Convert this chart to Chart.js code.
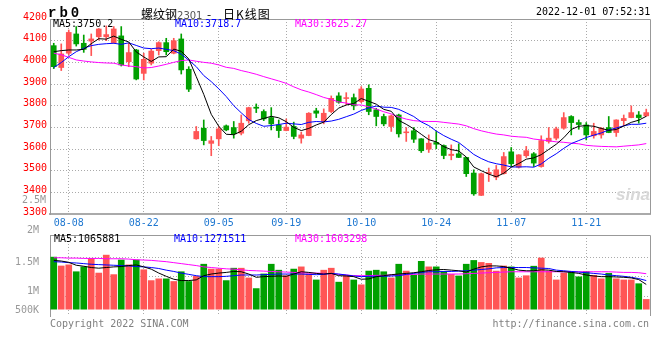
<!DOCTYPE html>
<html>
<head>
<meta charset="utf-8">
<script src="https://cdn.jsdelivr.net/npm/chart.js@4/dist/chart.umd.min.js"></script>
<style>
body { margin: 0; background: #fff; }
#wrap { position: relative; width: 660px; height: 360px; overflow: hidden; font-family: "DejaVu Sans Mono", monospace; font-size: 10px; }
#wrap canvas { position: absolute; left: 0; }
.t { position: absolute; white-space: nowrap; line-height: 12px; }
</style>
</head>
<body>
<div id="wrap">
  <canvas id="kline" width="660" height="232" style="top:0"></canvas>
  <canvas id="vol" width="660" height="100" style="top:225px"></canvas>

  <div class="t" style="left:48px;top:5px;font:bold 14px 'Liberation Mono';letter-spacing:3px">rb0</div>
  <div class="t" style="left:141px;top:5px;font:12px 'Noto Sans CJK SC'">螺纹钢<span style="font:10px 'DejaVu Sans';color:#555">2301</span></div>
  <div class="t" style="left:207px;top:5px;font:12px 'Noto Sans CJK SC'">-</div>
  <div class="t" style="left:223px;top:5px;font:12px 'Noto Sans CJK SC';letter-spacing:1px">日K线图</div>
  <div class="t" style="left:536px;top:6px">2022-12-01 07:52:31</div>

  <div class="t" style="left:53px;top:18px;color:#000">MA5:3750.2</div>
  <div class="t" style="left:175px;top:18px;color:#00f">MA10:3718.7</div>
  <div class="t" style="left:295px;top:18px;color:#f0f">MA30:3625.27</div>

  <div class="t" style="left:22px;top:194px;color:#999">2.5M</div>
  <div class="t" style="left:616px;top:185px;font:italic bold 17px 'Liberation Sans';color:#d8d8d8">sina</div>

  <div class="t" style="left:54px;top:233px;color:#000">MA5:1065881</div>
  <div class="t" style="left:174px;top:233px;color:#00f">MA10:1271511</div>
  <div class="t" style="left:295px;top:233px;color:#f0f">MA30:1603298</div>

  <div class="t" style="left:50px;top:318px;color:#808080">Copyright 2022 SINA.COM</div>
  <div class="t" style="right:11px;top:318px;color:#808080">http://finance.sina.com.cn</div>
</div>
<script>
// trading days shown on the chart
const dates = ['08-04','08-05','08-08','08-09','08-10','08-11','08-12','08-15','08-16','08-17','08-18','08-19','08-22','08-23','08-24','08-25','08-26','08-29','08-30','08-31',
  '09-01','09-02','09-05','09-06','09-07','09-08','09-09','09-13','09-14','09-15','09-16','09-19','09-20','09-21','09-22','09-23','09-26','09-27','09-28','09-29','09-30',
  '10-10','10-11','10-12','10-13','10-14','10-17','10-18','10-19','10-20','10-21','10-24','10-25','10-26','10-27','10-28','10-31',
  '11-01','11-02','11-03','11-04','11-07','11-08','11-09','11-10','11-11','11-14','11-15','11-16','11-17','11-18','11-21','11-22','11-23','11-24','11-25','11-28','11-29','11-30',
  '12-01'];
const dateTicks = ['08-08','08-22','09-05','09-19','10-10','10-24','11-07','11-21'];

const opens = [4077,3976,4042,4131,4088,4098,4118,4118,4091,4122, 4003,4057,3949,3996,4054,4091,4042,4108,3968,3647,
  3696,3626,3647,3707,3699,3673,3730,3793,3773,3745, 3711,3685,3704,3650,3662,3776,3727,3773,3845,3833,
  3837,3819,3880,3781,3750,3704,3757,3675,3684,3647, 3599,3630,3616,3570,3578,3561,3489,3386,3486,3470,
  3486,3587,3516,3569,3578,3519,3635,3650,3696,3750, 3722,3711,3661,3665,3699,3676,3731,3745,3757,3753];
const highs = [4088,4085,4149,4165,4126,4131,4156,4168,4165,4165, 4088,4060,4042,4060,4095,4111,4111,4131,3980,3704,
  3734,3658,3704,3711,3727,3757,3793,3808,3781,3791, 3734,3739,3724,3678,3768,3788,3785,3845,3860,3860,
  3854,3888,3896,3788,3761,3757,3761,3699,3699,3648, 3665,3681,3619,3619,3624,3562,3504,3489,3512,3524,
  3584,3607,3574,3612,3584,3661,3699,3701,3768,3754, 3734,3722,3719,3699,3750,3735,3757,3799,3773,3784];
const lows = [3971,3962,4034,4075,4046,4031,4103,4100,4088,3983, 3980,3919,3919,3988,4034,4034,4039,3946,3865,3645,
  3619,3569,3615,3684,3650,3665,3719,3768,3731,3688, 3653,3684,3647,3627,3661,3745,3716,3768,3811,3804,
  3781,3814,3758,3707,3707,3681,3655,3635,3630,3584, 3584,3601,3555,3550,3560,3473,3386,3385,3450,3458,
  3484,3519,3512,3561,3519,3516,3627,3642,3691,3665, 3691,3642,3650,3650,3675,3658,3707,3744,3719,3750];
const closes = [3980,4039,4138,4085,4060,4108,4154,4128,4154,3988, 4045,3923,4014,4052,4091,4049,4100,3965,3876,3681,
  3639,3638,3693,3688,3670,3719,3791,3788,3739,3716, 3685,3701,3658,3665,3765,3765,3765,3834,3816,3837,
  3799,3877,3773,3750,3716,3753,3670,3679,3645,3592, 3627,3622,3570,3576,3561,3486,3393,3486,3492,3504,
  3565,3532,3573,3592,3535,3639,3650,3693,3745,3722, 3713,3665,3681,3696,3676,3734,3741,3768,3745,3768];

const ma5 = [4049,4054,4057,4057,4060,4086,4109,4107,4121,4106, 4094,4048,4025,4004,4025,4026,4061,4051,4016,3934,
  3852,3760,3705,3668,3666,3682,3712,3731,3741,3751, 3744,3726,3700,3685,3695,3711,3724,3759,3789,3803,
  3810,3833,3820,3807,3783,3774,3732,3714,3693,3668, 3643,3633,3611,3597,3591,3563,3517,3500,3484,3472,
  3488,3516,3533,3553,3559,3574,3598,3622,3652,3690, 3705,3708,3705,3695,3686,3690,3706,3723,3733,3751];
const ma10 = [3976,3999,4026,4049,4065,4077,4083,4086,4088,4083, 4090,4078,4066,4063,4066,4060,4054,4038,4010,3980,
  3939,3911,3878,3842,3800,3767,3736,3718,3705,3708, 3713,3719,3716,3713,3723,3727,3725,3729,3737,3749,
  3761,3778,3790,3798,3793,3792,3783,3767,3750,3725, 3708,3683,3662,3645,3630,3603,3575,3556,3541,3532,
  3526,3517,3517,3518,3516,3531,3557,3578,3603,3625, 3639,3653,3664,3674,3688,3697,3707,3714,3714,3719];
const ma30 = [4042,4035,4023,4011,4006,4002,3999,3997,3996,3988, 3983,3980,3974,3976,3983,3991,4000,4008,4011,4005,
  4000,3996,3988,3977,3972,3962,3954,3945,3934,3924, 3914,3903,3887,3873,3863,3851,3838,3829,3817,3812,
  3804,3803,3795,3784,3772,3762,3748,3738,3731,3728, 3727,3727,3723,3719,3715,3707,3694,3684,3676,3669,
  3665,3659,3656,3654,3646,3642,3638,3633,3631,3627, 3624,3617,3614,3612,3611,3610,3613,3616,3619,3625];

const volumes = [2350000,1950000,2000000,1690000,1910000,2290000,1630000,2440000,1560000,2220000,
  2000000,2220000,1780000,1290000,1370000,1370000,1250000,1690000,1250000,1480000,
  2030000,1810000,1810000,1290000,1850000,1850000,1410000,930000,1590000,2030000,
  1760000,1510000,1810000,1910000,1590000,1320000,1760000,1850000,1220000,1510000,
  1320000,1100000,1720000,1760000,1690000,1410000,2030000,1720000,1540000,2160000,
  1910000,1910000,1700000,1570000,1500000,2030000,2200000,2110000,2070000,1720000,
  1950000,1910000,1410000,1510000,1940000,2310000,1720000,1320000,1630000,1680000,
  1460000,1700000,1530000,1370000,1620000,1370000,1320000,1320000,1150000,440000];
const volMa5 = [2203000,2173000,2115000,1982000,1938000,1880000,1850000,1880000,1909000,1924000,
  1968000,1997000,1909000,1806000,1630000,1483000,1351000,1292000,1292000,1322000,
  1512000,1586000,1630000,1659000,1703000,1689000,1586000,1439000,1468000,1483000,
  1498000,1483000,1586000,1689000,1659000,1615000,1586000,1615000,1512000,1498000,
  1468000,1351000,1366000,1468000,1512000,1557000,1586000,1615000,1645000,1689000,
  1747000,1777000,1791000,1762000,1733000,1674000,1806000,1909000,1953000,1953000,
  1924000,1850000,1762000,1733000,1733000,1777000,1762000,1703000,1689000,1659000,
  1615000,1542000,1498000,1468000,1468000,1454000,1439000,1410000,1336000,1116000];
const volMa10 = [2144000,2129000,2100000,2085000,2056000,2026000,2012000,1997000,1982000,1968000,
  1953000,1924000,1909000,1880000,1836000,1762000,1703000,1630000,1571000,1512000,
  1468000,1468000,1468000,1483000,1512000,1542000,1542000,1542000,1557000,1571000,
  1586000,1586000,1586000,1586000,1571000,1557000,1571000,1615000,1586000,1542000,
  1498000,1468000,1483000,1483000,1483000,1498000,1512000,1571000,1615000,1659000,
  1689000,1689000,1703000,1703000,1718000,1733000,1762000,1791000,1821000,1865000,
  1880000,1880000,1880000,1880000,1865000,1850000,1836000,1762000,1733000,1703000,
  1674000,1645000,1615000,1586000,1542000,1512000,1483000,1439000,1380000,1292000];
const volMa30 = [2320000,2320000,2305000,2305000,2291000,2291000,2291000,2276000,2276000,2276000,
  2261000,2232000,2217000,2203000,2173000,2144000,2100000,2056000,2012000,1968000,
  1909000,1880000,1850000,1821000,1806000,1777000,1747000,1733000,1718000,1703000,
  1689000,1674000,1659000,1645000,1630000,1630000,1615000,1601000,1571000,1542000,
  1512000,1512000,1512000,1527000,1527000,1542000,1542000,1557000,1571000,1586000,
  1586000,1586000,1586000,1586000,1586000,1601000,1615000,1630000,1645000,1659000,
  1674000,1689000,1689000,1689000,1689000,1689000,1689000,1689000,1689000,1689000,
  1689000,1689000,1689000,1689000,1689000,1674000,1659000,1659000,1645000,1601000];

// volume axis labels as they appear on the picture
const volTickValues = [667000, 1000000, 1500000, 2033000];
const volTickLabels = ['500K', '1M', '1.5M', '2M'];

const UP = '#ff5555', DOWN = '#00a000';
const GRID = '#aaa';
const FRAME = '#999';
const monoFont = { family: "'DejaVu Sans Mono', monospace", size: 10 };
const candleColors = closes.map((c, i) => c >= opens[i] ? UP : DOWN);

function dateGridColor(ctx) {
  return dateTicks.includes(dates[ctx.index]) ? GRID : 'rgba(0,0,0,0)';
}

// top and right edges of the plot box
const framePlugin = {
  id: 'frame',
  afterDatasetsDraw(chart) {
    const { ctx, chartArea: a } = chart;
    ctx.save();
    ctx.strokeStyle = FRAME;
    ctx.lineWidth = 1;
    ctx.beginPath();
    ctx.moveTo(a.left, Math.round(a.top) + 0.5);
    ctx.lineTo(Math.round(a.right) + 0.5, Math.round(a.top) + 0.5);
    ctx.lineTo(Math.round(a.right) + 0.5, a.bottom);
    ctx.stroke();
    ctx.restore();
  }
};

function lineSet(data, color, axis) {
  return { type: 'line', data: data, borderColor: color, borderWidth: 1, pointRadius: 0,
    fill: false, tension: 0, order: 0, yAxisID: axis };
}

new Chart(document.getElementById('kline'), {
  type: 'bar',
  data: {
    labels: dates,
    datasets: [
      { data: lows.map((l, i) => [l, highs[i]]), backgroundColor: candleColors, barThickness: 1,
        grouped: false, order: 2, yAxisID: 'y' },
      { data: opens.map((o, i) => [o, closes[i]]), backgroundColor: candleColors, barThickness: 5,
        grouped: false, order: 1, yAxisID: 'y' },
      lineSet(ma5, '#000', 'y'),
      lineSet(ma10, '#0000ff', 'y'),
      lineSet(ma30, '#ff00ff', 'y')
    ]
  },
  options: {
    responsive: false,
    animation: false,
    devicePixelRatio: 1,
    layout: { padding: { top: 19, right: 10, left: 0, bottom: 0 } },
    plugins: { legend: { display: false }, tooltip: { enabled: false } },
    scales: {
      x: {
        afterFit: s => { s.height = 18; },
        ticks: { autoSkip: false, maxRotation: 0, minRotation: 0, padding: 3, color: '#1f78d1', font: monoFont,
          callback: (v, i) => dateTicks.includes(dates[i]) ? dates[i] : '' },
        grid: { offset: false, drawTicks: false, color: dateGridColor },
        border: { color: '#aaa', width: 2, dash: [1, 2] }
      },
      y: {
        min: 3300, max: 4200,
        afterFit: s => { s.width = 50; },
        ticks: { stepSize: 100, color: '#f00', font: monoFont, padding: 3, labelOffset: -2,
          callback: v => String(v) },
        grid: { drawTicks: false, color: c => (c.tick.value > 3300 && c.tick.value < 4200) ? GRID : 'rgba(0,0,0,0)' },
        border: { color: FRAME, width: 1, dash: [1, 2] }
      }
    }
  },
  plugins: [framePlugin]
});

new Chart(document.getElementById('vol'), {
  type: 'bar',
  data: {
    labels: dates,
    datasets: [
      { data: volumes, backgroundColor: candleColors, barThickness: 6, order: 1, yAxisID: 'yv' },
      lineSet(volMa5, '#000', 'yv'),
      lineSet(volMa10, '#0000ff', 'yv'),
      lineSet(volMa30, '#ff00ff', 'yv')
    ]
  },
  options: {
    responsive: false,
    animation: false,
    devicePixelRatio: 1,
    layout: { padding: { top: 10, right: 10, left: 0, bottom: 0 } },
    plugins: { legend: { display: false }, tooltip: { enabled: false } },
    scales: {
      x: {
        afterFit: s => { s.height = 7; },
        ticks: { display: false },
        grid: { offset: false, drawTicks: false, color: dateGridColor },
        border: { display: false, dash: [1, 2] }
      },
      yv: { display: false, min: -308000, max: 3348000 },
      yl: {
        position: 'left', min: 545000, max: 1928000,
        afterFit: s => { s.width = 50; },
        afterBuildTicks: s => { s.ticks = volTickValues.map(v => ({ value: v })); },
        ticks: { color: '#999', font: monoFont, padding: 3, labelOffset: 2,
          callback: (v, i) => volTickLabels[i] },
        grid: { display: false },
        border: { color: FRAME, width: 1 }
      },
      yg: {
        position: 'right', min: 0, max: 4.15,
        afterFit: s => { s.width = 0; },
        ticks: { display: false, stepSize: 1 },
        grid: { drawTicks: false, color: c => (c.tick.value > 0 && c.tick.value < 3.5) ? GRID : 'rgba(0,0,0,0)' },
        border: { display: false, dash: [1, 2] }
      }
    }
  },
  plugins: [framePlugin]
});
</script>
</body>
</html>
